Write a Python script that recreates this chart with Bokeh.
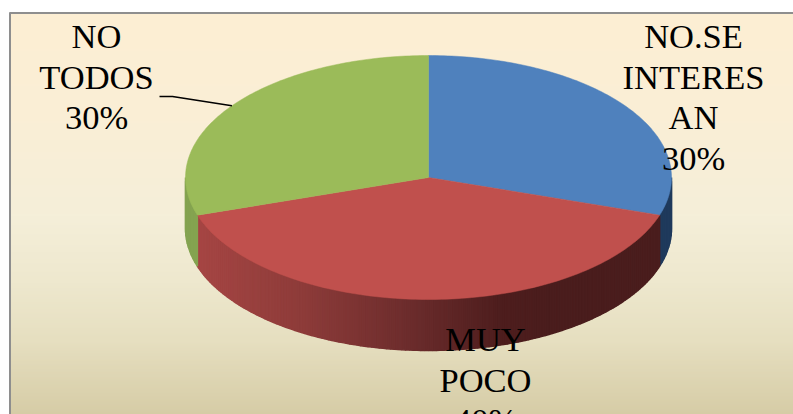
import numpy as np
from bokeh.plotting import figure
from bokeh.models import Range1d
from bokeh.core.properties import value
from bokeh.embed import file_html
from bokeh.resources import INLINE

# data
categories = ["NO.SE INTERESAN", "MUY POCO", "NO TODOS"]
shares = [30, 40, 30]
top_colors = ["#4F81BD", "#C0504D", "#9BBB59"]

label_lines = [["NO.SE", "INTERES", "AN", "30%"], ["MUY", "POCO", "40%"], ["NO", "TODOS", "30%"]]
label_x = [693, 485, 96]
label_first_baseline = [49, 352, 49]

# layout (picture pixels)
W, H = 793, 414
CX, CY, RX, RY, DEPTH = 428, 177, 243, 122, 51
LINE_STEP = 40.7
TEXT_SHIFT = -13.5
FONT = "Liberation Serif"

bg_stops_y = [12, 120, 214, 280, 340, 414]
bg_stops_r = [253, 250, 245, 238, 230, 214]
bg_stops_g = [238, 238, 239, 232, 223, 204]
bg_stops_b = [211, 214, 217, 206, 192, 166]

red_x = [197, 300, 400, 500, 560, 660]
red_r = [166, 142, 111, 78, 74, 74]
red_g = [70, 60, 46, 30, 29, 29]
red_b = [68, 58, 46, 30, 29, 29]


def hex_rgb(r, g, b):
    return "#%02x%02x%02x" % (int(r), int(g), int(b))


p = figure(width=W, height=H, output_backend="svg", toolbar_location=None,
           x_range=Range1d(0, W), y_range=Range1d(H, 0),
           min_border=0, outline_line_color=None, background_fill_color="white",
           border_fill_color="white", x_axis_type=None, y_axis_type=None)
p.grid.visible = False

# backdrop gradient
ys = np.arange(12, H, 2)
cols = [hex_rgb(np.interp(y, bg_stops_y, bg_stops_r), np.interp(y, bg_stops_y, bg_stops_g),
                np.interp(y, bg_stops_y, bg_stops_b)) for y in ys]
p.quad(left=10, right=W, top=ys, bottom=ys + 2.5, fill_color=cols, line_color=None)
p.line([9.5, 9.5], [12, H], line_color="#8e8e8e", line_width=2)
p.line([9, W], [12.5, 12.5], line_color="#8e8e8e", line_width=2)

# slice angles, clockwise from 12 o'clock
edges = np.concatenate([[0], np.cumsum(shares)]) / sum(shares) * 2 * np.pi


def rim(t):
    return CX + RX * np.sin(t), CY - RY * np.cos(t)


# side walls
def wall(t0, t1, color_fn, n):
    ts = np.linspace(t0, t1, n + 1)
    xs, ysd, fills = [], [], []
    for a, b in zip(ts[:-1], ts[1:]):
        xa, ya = rim(a)
        xb, yb = rim(b)
        xs.append([xa, xb, xb, xa])
        ysd.append([ya, yb, yb + DEPTH, ya + DEPTH])
        fills.append(color_fn((xa + xb) / 2))
    p.patches(xs, ysd, fill_color=fills, line_color=fills, line_width=1.5)


wall(np.pi / 2, edges[1], lambda x: "#1f3a5c", 10)
wall(edges[1], edges[2], lambda x: hex_rgb(np.interp(x, red_x, red_r), np.interp(x, red_x, red_g),
                                           np.interp(x, red_x, red_b)), 160)
wall(edges[2], 3 * np.pi / 2, lambda x: "#84a350", 10)

# top faces
for i, color in enumerate(top_colors):
    ts = np.linspace(edges[i], edges[i + 1], 120)
    x, y = rim(ts)
    p.patch(np.concatenate([[CX], x]), np.concatenate([[CY], y]), fill_color=color, line_color=color, line_width=0.5)

# leader line of the third label
lx, ly = rim(edges[2] + (edges[3] - edges[2]) * 0.5)
p.line([159, 172, lx], [96, 96, ly], line_color="black", line_width=1.5)

# labels
for lines, x0, y0 in zip(label_lines, label_x, label_first_baseline):
    yy = [y0 + TEXT_SHIFT + k * LINE_STEP for k in range(len(lines))]
    p.text(x=[x0] * len(lines), y=yy, text=lines, text_align="center", text_baseline="alphabetic",
           text_color="black", text_font=value(FONT), text_font_size="34.5px")

open("out.html", "w").write(file_html(p, INLINE))
